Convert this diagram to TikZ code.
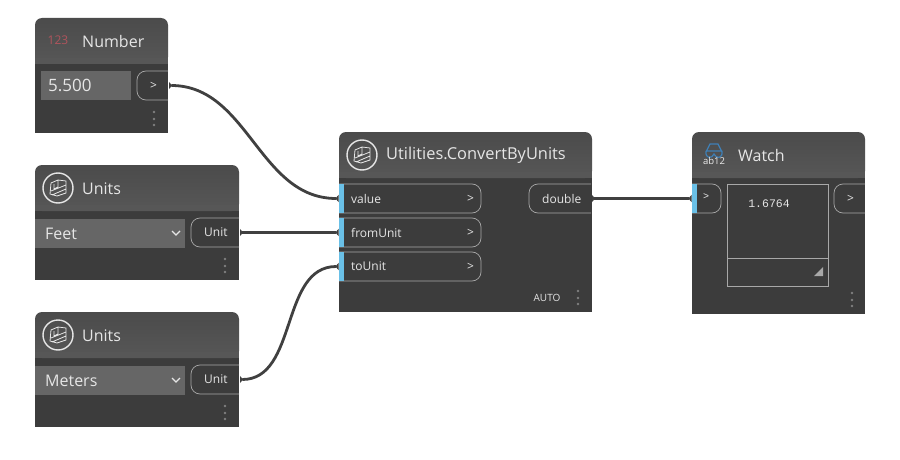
\documentclass[tikz,border=0pt]{standalone}
\usepackage{fontspec}
\setmainfont{Open Sans}
\setmonofont{Liberation Mono}
\usetikzlibrary{arrows.meta}
\definecolor{bodyc}{HTML}{3C3C3C}
\definecolor{headtop}{HTML}{4B4B4B}
\definecolor{headbot}{HTML}{575757}
\definecolor{fieldc}{HTML}{666666}
\definecolor{portc}{HTML}{A8A8A8}
\definecolor{txtc}{HTML}{E6E6E6}
\definecolor{barc}{HTML}{6AC0E7}
\definecolor{wirec}{HTML}{404040}
\definecolor{dotc}{HTML}{808080}
\definecolor{glassc}{HTML}{3F7FB5}
\definecolor{numc}{HTML}{B0545C}
\tikzstyle{title} = [anchor=west,inner sep=0pt,text=txtc,font=\fontsize{16}{16}\selectfont]
\tikzstyle{port} = [anchor=north west,inner sep=0pt,outer sep=0pt,minimum height=29]
\tikzstyle{portline} = [draw=portc,line width=.7pt,rounded corners=9]
\tikzstyle{plabel} = [anchor=west,inner sep=0pt,text=txtc,font=\fontsize{12}{12}\selectfont]
\tikzstyle{field} = [anchor=north west,inner sep=0pt,outer sep=0pt,fill=fieldc,text=txtc,minimum height=29,font=\fontsize{16}{16}\selectfont]
\tikzstyle{wire} = [draw=wirec,line width=2.8pt,out=0,in=180,shorten <=1,shorten >=.5,{Triangle[reversed,length=3pt,width=7pt]}-{Triangle[reversed,length=3pt,width=7pt]}]
\tikzstyle{icon} = [draw=txtc,circle,line width=1.4pt,minimum size=30,inner sep=0pt]
% #1 x0, #2 y0, #3 x1, #4 y1, #5 y of the header's end
\newcommand\dynbody[5]{%
	\fill[bodyc] (#1,#5) rectangle (#3,#4);
	\shade[top color=headtop,bottom color=headbot,rounded corners=7] (#1,#5) -- (#1,#2) -- (#3,#2) -- (#3,#5) -- cycle;
	\fill[headbot] (#1,#5-6) rectangle (#3,#5);}
\newcommand\dyndots[2]{\foreach \d in {-7,0,6} \fill[dotc] (#1,#2+\d) circle (1.4);}
% #1 name, #2 x, #3 y, #4 width, #5 text, #6 text offset
\newcommand\outport[6]{%
	\node[port,minimum width=#4] (#1) at (#2,#3) {};
	\draw[portline] (#1.north east) -- (#1.north west) -- (#1.south west) -- (#1.south east);
	\node[plabel] (#1t) at ([xshift=#6]#1.west) {#5};}
\newcommand\inport[5]{%
	\node[port,minimum width=#4] (#1) at (#2,#3) {};
	\draw[portline] (#1.north west) -- (#1.north east) -- (#1.south east) -- (#1.south west);
	\fill[barc] (#1.north west) rectangle ([xshift=5]#1.south west);
	\node[plabel] (#1t) at ([xshift=12]#1.west) {#5};
	\node[plabel] (#1a) at ([xshift=-14]#1.east) {>};}
\newcommand\cubeicon[2]{%
	\node[icon] (#1) at (#2) {};
	\draw[txtc,line width=.8pt,shift={(#2)}] (-7,-5) -- (0,-8) -- (8,-7) -- (8,5) -- (-1,8) -- (-8,6) -- cycle (0,-8) -- (0,-1) (-4,-4) -- (-4,1) -- (0,-1) (-7,3) -- (8,-3) (-6,7) -- (8,1);}

\begin{document}
\begin{tikzpicture}[x=1pt,y=-1pt]
\useasboundingbox (0,0) rectangle (900,460);
\fill[white] (0,0) rectangle (900,460);

% Number
\dynbody{35}{18}{168}{133}{64}
\node[anchor=center,inner sep=0pt,text=numc,font=\fontsize{12}{12}\selectfont] (numicon) at (58,40.5) {123};
\node[title] (numtitle) at (82,41.5) {Number};
\node[field,minimum width=90] (numfield) at (41,71) {};
\node[anchor=west,inner sep=0pt,text=txtc,font=\fontsize{17}{17}\selectfont] (numval) at ([xshift=7]numfield.west) {5.500};
\outport{numout}{137}{71}{31}{>}{13}
\dyndots{154}{119}

% Units, feet
\dynbody{35}{165}{239}{280}{211}
\cubeicon{ua}{58,188}
\node[title] (uatitle) at (82,188.5) {Units};
\node[field,minimum width=150] (uafield) at (35,219) {};
\node[plabel,font=\fontsize{16}{16}\selectfont] (uaval) at ([xshift=10]uafield.west) {Feet};
\draw[txtc,line width=1.2pt] (172,231) -- (176,235) -- (180,231);
\outport{uaout}{191}{218}{48}{Unit}{13}
\dyndots{225}{266}

% Units, meters
\dynbody{35}{312}{239}{427}{358}
\cubeicon{ub}{58,335}
\node[title] (ubtitle) at (82,335.5) {Units};
\node[field,minimum width=150] (ubfield) at (35,366) {};
\node[plabel,font=\fontsize{16}{16}\selectfont] (ubval) at ([xshift=10]ubfield.west) {Meters};
\draw[txtc,line width=1.2pt] (172,378) -- (176,382) -- (180,378);
\outport{ubout}{191}{365}{48}{Unit}{13}
\dyndots{225}{413}

% Utilities.ConvertByUnits
\dynbody{339}{132}{592}{312}{178}
\cubeicon{conv}{362,155}
\node[title,font=\fontsize{16.4}{16}\selectfont] (convtitle) at (386,155) {Utilities.ConvertByUnits};
\inport{value}{339}{184}{142}{value}
\inport{fromunit}{339}{218}{142}{fromUnit}
\inport{tounit}{339}{252}{142}{toUnit}
\outport{double}{529}{184}{62}{double}{13}
\node[anchor=center,inner sep=0pt,text=txtc,font=\fontsize{10}{10}\selectfont] (auto) at (547,298) {AUTO};
\dyndots{578}{298}

% Watch
\dynbody{692}{132}{865}{314}{178}
\draw[glassc,line width=1.2pt] (706,152) -- (710,144) -- (718,144) -- (722,152) (706,151) -- (722,151) (706,151) .. controls (705,159) and (712,159) .. (714,154) .. controls (716,159) and (723,159) .. (722,151);
\node[anchor=center,inner sep=0pt,text=txtc!80,font=\fontsize{9.5}{9}\selectfont] (watchicon) at (714,161) {ab12};
\node[title] (watchtitle) at (738,155) {Watch};
\node[port,minimum width=29] (watchin) at (692,184) {};
\draw[portline] (watchin.north west) -- (watchin.north east) -- (watchin.south east) -- (watchin.south west);
\fill[barc] (watchin.north west) rectangle ([xshift=5]watchin.south west);
\node[plabel,font=\fontsize{10}{10}\selectfont\ttfamily] (watchgt) at (703,197) {>};
\node[draw=portc,line width=.8pt,anchor=north west,inner sep=0pt,outer sep=0pt,minimum width=101,minimum height=102] (watchbox) at (727,184) {};
\draw[portc,line width=.8pt] (727,258) -- (828,258);
\fill[portc] (814,276) -- (823,276) -- (823,267) -- cycle;
\node[anchor=center,inner sep=0pt,text=txtc,font=\fontsize{11.5}{12}\selectfont\ttfamily] (watchval) at (769,203.5) {1.6764};
\outport{watchout}{834}{184}{31}{>}{13}
\dyndots{852}{300}

% wires
\draw (numout) edge[wire] (value);
\draw (uaout) edge[wire] (fromunit);
\draw (ubout) edge[wire] (tounit);
\draw (double) edge[wire] (watchin);

\end{tikzpicture}
\end{document}
